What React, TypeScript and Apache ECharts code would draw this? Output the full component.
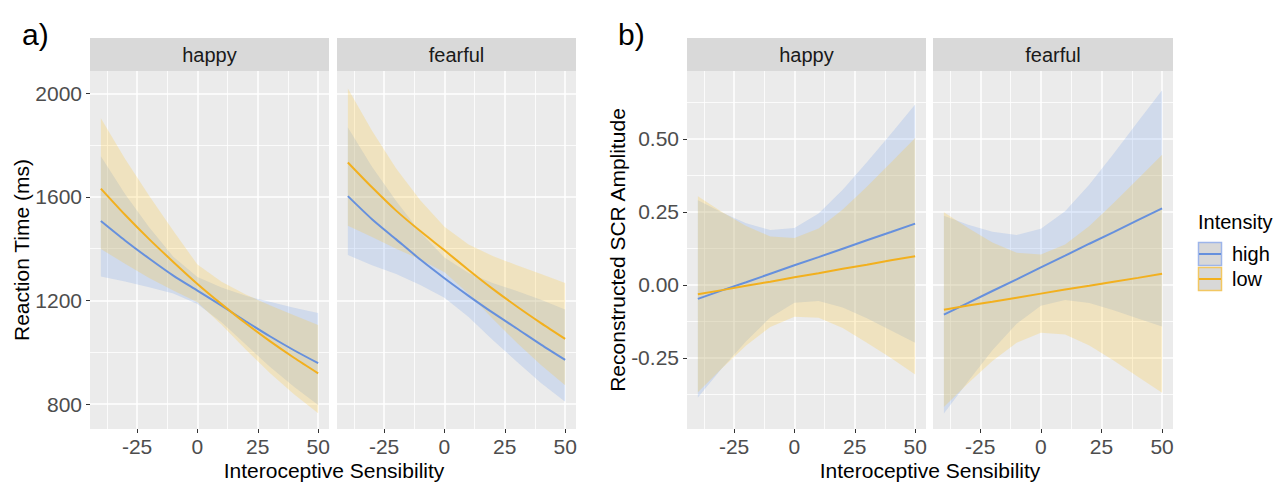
import React, { useEffect, useRef } from 'react';
import * as echarts from 'echarts';

const FONT = '"Liberation Sans", Arial, Helvetica, sans-serif';

const X = [-40, -30, -20, -10, 0, 10, 20, 30, 40, 50];
const X_TICKS = [-25, 0, 25, 50];
const X_MINOR = [-37.5, -12.5, 12.5, 37.5];
const RT_TICKS = [800, 1200, 1600, 2000];
const RT_MINOR = [1000, 1400, 1800];
const SCR_TICKS = [-0.25, 0, 0.25, 0.5];
const SCR_MINOR = [-0.375, -0.125, 0.125, 0.375, 0.625];
const FACETS = ['happy', 'fearful'];
const INTENSITY = ['high', 'low'];

// a) Reaction time – happy
const RT_HAPPY_HIGH = [1507, 1432, 1362, 1296, 1238, 1180, 1120, 1062, 1008, 958];
const RT_HAPPY_HIGH_LO = [1293, 1273, 1251, 1227, 1187, 1116, 1030, 944, 867, 797];
const RT_HAPPY_HIGH_HI = [1757, 1611, 1483, 1369, 1291, 1250, 1218, 1195, 1172, 1152];
const RT_HAPPY_LOW = [1632, 1531, 1437, 1349, 1264, 1186, 1112, 1043, 979, 919];
const RT_HAPPY_LOW_LO = [1399, 1342, 1287, 1239, 1193, 1106, 1011, 920, 838, 765];
const RT_HAPPY_LOW_HI = [1904, 1747, 1604, 1469, 1339, 1272, 1223, 1182, 1143, 1105];

// a) Reaction time – fearful
const RT_FEAR_HIGH = [1603, 1514, 1436, 1358, 1286, 1218, 1153, 1092, 1030, 971];
const RT_FEAR_HIGH_LO = [1376, 1336, 1302, 1260, 1211, 1136, 1048, 964, 882, 809];
const RT_FEAR_HIGH_HI = [1868, 1716, 1584, 1464, 1366, 1306, 1268, 1237, 1203, 1165];
const RT_FEAR_LOW = [1733, 1637, 1547, 1468, 1394, 1318, 1245, 1177, 1113, 1052];
const RT_FEAR_LOW_LO = [1489, 1445, 1400, 1358, 1309, 1226, 1130, 1037, 951, 873];
const RT_FEAR_LOW_HI = [2018, 1855, 1710, 1587, 1485, 1416, 1372, 1336, 1302, 1268];

// b) SCR amplitude – happy
const SCR_HAPPY_HIGH = [-0.048, -0.019, 0.009, 0.038, 0.067, 0.095, 0.124, 0.153, 0.181, 0.21];
const SCR_HAPPY_HIGH_LO = [-0.386, -0.286, -0.193, -0.112, -0.061, -0.055, -0.078, -0.114, -0.156, -0.198];
const SCR_HAPPY_HIGH_HI = [0.29, 0.248, 0.211, 0.188, 0.195, 0.245, 0.326, 0.42, 0.518, 0.618];
const SCR_HAPPY_LOW = [-0.032, -0.018, -0.003, 0.011, 0.026, 0.04, 0.055, 0.069, 0.084, 0.098];
const SCR_HAPPY_LOW_LO = [-0.368, -0.286, -0.208, -0.144, -0.109, -0.113, -0.148, -0.198, -0.251, -0.307];
const SCR_HAPPY_LOW_HI = [0.304, 0.25, 0.202, 0.166, 0.161, 0.193, 0.258, 0.336, 0.419, 0.503];

// b) SCR amplitude – fearful
const SCR_FEAR_HIGH = [-0.102, -0.062, -0.021, 0.019, 0.06, 0.1, 0.141, 0.181, 0.222, 0.262];
const SCR_FEAR_HIGH_LO = [-0.441, -0.33, -0.224, -0.133, -0.072, -0.052, -0.062, -0.087, -0.115, -0.143];
const SCR_FEAR_HIGH_HI = [0.237, 0.206, 0.182, 0.171, 0.192, 0.252, 0.344, 0.449, 0.559, 0.667];
const SCR_FEAR_LOW = [-0.085, -0.071, -0.058, -0.044, -0.03, -0.016, -0.003, 0.011, 0.024, 0.038];
const SCR_FEAR_LOW_LO = [-0.419, -0.337, -0.261, -0.198, -0.164, -0.17, -0.208, -0.259, -0.315, -0.37];
const SCR_FEAR_LOW_HI = [0.249, 0.195, 0.145, 0.11, 0.104, 0.138, 0.202, 0.281, 0.363, 0.446];

const BLUE = '#6690DD';
const GOLD = '#F2B01E';
const BLUE_FILL = 'rgba(100,149,237,0.2)';
const GOLD_FILL = 'rgba(255,198,35,0.22)';

const PANELS = [
  { left: 90, width: 239, ymin: 704, ymax: 2086, ticks: RT_TICKS, minor: RT_MINOR, labels: true, dec: 0, smooth: 0.25,
    high: [RT_HAPPY_HIGH, RT_HAPPY_HIGH_LO, RT_HAPPY_HIGH_HI], low: [RT_HAPPY_LOW, RT_HAPPY_LOW_LO, RT_HAPPY_LOW_HI], facet: FACETS[0] },
  { left: 337, width: 239, ymin: 704, ymax: 2086, ticks: RT_TICKS, minor: RT_MINOR, labels: false, dec: 0, smooth: 0.25,
    high: [RT_FEAR_HIGH, RT_FEAR_HIGH_LO, RT_FEAR_HIGH_HI], low: [RT_FEAR_LOW, RT_FEAR_LOW_LO, RT_FEAR_LOW_HI], facet: FACETS[1] },
  { left: 687, width: 239, ymin: -0.494, ymax: 0.733, ticks: SCR_TICKS, minor: SCR_MINOR, labels: true, dec: 2, smooth: 0,
    high: [SCR_HAPPY_HIGH, SCR_HAPPY_HIGH_LO, SCR_HAPPY_HIGH_HI], low: [SCR_HAPPY_LOW, SCR_HAPPY_LOW_LO, SCR_HAPPY_LOW_HI], facet: FACETS[0] },
  { left: 933, width: 240, ymin: -0.494, ymax: 0.733, ticks: SCR_TICKS, minor: SCR_MINOR, labels: false, dec: 2, smooth: 0,
    high: [SCR_FEAR_HIGH, SCR_FEAR_HIGH_LO, SCR_FEAR_HIGH_HI], low: [SCR_FEAR_LOW, SCR_FEAR_LOW_LO, SCR_FEAR_LOW_HI], facet: FACETS[1] },
];

const TOP = 71;
const HEIGHT = 358;
const XMIN = -44.5;
const XMAX = 54.5;

function ribbonSeries(gi: number, lo: number[], hi: number[], fill: string) {
  return {
    type: 'custom',
    xAxisIndex: gi * 2,
    yAxisIndex: gi * 2,
    clip: true,
    silent: true,
    encode: { x: 0, y: [1, 2] },
    data: X.map((x, i) => [x, lo[i], hi[i]]),
    renderItem: (params: any, api: any) => {
      if (params.dataIndexInside !== 0) return null;
      const n = params.dataInsideLength;
      const top: number[][] = [];
      const bot: number[][] = [];
      for (let i = 0; i < n; i++) {
        const xv = api.value(0, i);
        bot.push(api.coord([xv, api.value(1, i)]));
        top.push(api.coord([xv, api.value(2, i)]));
      }
      return {
        type: 'polygon',
        shape: { points: top.concat(bot.reverse()) },
        style: { fill, stroke: 'none' },
      };
    },
  };
}

function lineSeries(gi: number, mean: number[], color: string, name: string, smooth: number) {
  return {
    type: 'line',
    name,
    xAxisIndex: gi * 2,
    yAxisIndex: gi * 2,
    data: X.map((x, i) => [x, mean[i]]),
    symbol: 'none',
    smooth: smooth > 0 ? smooth : false,
    clip: true,
    lineStyle: { color, width: 2 },
  };
}

export default function App() {
  const ref = useRef<HTMLDivElement>(null);
  useEffect(() => {
    if (!ref.current) return;
    document.body.style.margin = '0';
    const chart = echarts.init(ref.current, undefined, { renderer: 'svg' });

    const grids = PANELS.map((p) => ({
      left: p.left, top: TOP, width: p.width, height: HEIGHT,
      show: true, backgroundColor: '#EBEBEB', borderWidth: 0,
      containLabel: false, outerBoundsMode: 'none',
    }));

    const xAxis: any[] = [];
    const yAxis: any[] = [];
    PANELS.forEach((p, gi) => {
      xAxis.push({
        type: 'value', gridIndex: gi, min: XMIN, max: XMAX, position: 'bottom',
        axisLine: { show: false, onZero: false },
        axisTick: { show: true, length: 4, lineStyle: { color: '#333333', width: 1 }, customValues: X_TICKS },
        axisLabel: { show: true, customValues: X_TICKS, color: '#4D4D4D', fontSize: 21, fontFamily: FONT, margin: 7,
          formatter: (v: number) => String(v) },
        splitLine: { show: true, lineStyle: { color: '#FFFFFF', width: 1.5 } },
      });
      xAxis.push({
        type: 'value', gridIndex: gi, min: XMIN, max: XMAX, position: 'bottom',
        axisLine: { show: false, onZero: false },
        axisTick: { show: false, customValues: X_MINOR },
        axisLabel: { show: false, customValues: X_MINOR },
        splitLine: { show: true, lineStyle: { color: '#FFFFFF', width: 0.8 } },
      });
      yAxis.push({
        type: 'value', gridIndex: gi, min: p.ymin, max: p.ymax, position: 'left',
        axisLine: { show: false, onZero: false },
        axisTick: { show: p.labels, length: 4, lineStyle: { color: '#333333', width: 1 }, customValues: p.ticks },
        axisLabel: { show: p.labels, customValues: p.ticks, color: '#4D4D4D', fontSize: 21, fontFamily: FONT, margin: 8,
          formatter: (v: number) => v.toFixed(p.dec) },
        splitLine: { show: true, lineStyle: { color: '#FFFFFF', width: 1.5 } },
      });
      yAxis.push({
        type: 'value', gridIndex: gi, min: p.ymin, max: p.ymax, position: 'left',
        axisLine: { show: false, onZero: false },
        axisTick: { show: false, customValues: p.minor },
        axisLabel: { show: false, customValues: p.minor },
        splitLine: { show: true, lineStyle: { color: '#FFFFFF', width: 0.8 } },
      });
    });

    const series: any[] = [];
    PANELS.forEach((p, gi) => {
      series.push(ribbonSeries(gi, p.high[1], p.high[2], BLUE_FILL));
      series.push(lineSeries(gi, p.high[0], BLUE, INTENSITY[0], p.smooth));
      series.push(ribbonSeries(gi, p.low[1], p.low[2], GOLD_FILL));
      series.push(lineSeries(gi, p.low[0], GOLD, INTENSITY[1], p.smooth));
    });

    const graphic: any[] = [];
    PANELS.forEach((p) => {
      graphic.push({ type: 'rect', shape: { x: p.left, y: 38, width: p.width, height: 33 }, style: { fill: '#D9D9D9' }, silent: true });
      graphic.push({ type: 'text', x: p.left + p.width / 2, y: 55,
        style: { text: p.facet, fill: '#1A1A1A', fontSize: 20, fontFamily: FONT, align: 'center', verticalAlign: 'middle' } });
    });
    const txt = (text: string, x: number, y: number, size: number, extra: any = {}, align = 'center') => ({
      type: 'text', x, y, ...extra,
      style: { text, fill: '#000000', fontSize: size, fontFamily: FONT, align, verticalAlign: 'middle' },
    });
    graphic.push(txt('a)', 22, 34, 30, {}, 'left'));
    graphic.push(txt('b)', 618, 34, 30, {}, 'left'));
    graphic.push(txt('Interoceptive Sensibility', 334, 470, 21));
    graphic.push(txt('Interoceptive Sensibility', 930, 470, 21));
    graphic.push(txt('Reaction Time (ms)', 21, 250, 21, { rotation: Math.PI / 2 }));
    graphic.push(txt('Reconstructed SCR Amplitude', 617, 250, 21, { rotation: Math.PI / 2 }));

    // legend
    graphic.push(txt('Intensity', 1198, 222, 20, {}, 'left'));
    const keys = [
      { label: INTENSITY[0], color: BLUE, border: '#9DB5EA', y: 242 },
      { label: INTENSITY[1], color: GOLD, border: '#F2C762', y: 267 },
    ];
    keys.forEach((k) => {
      graphic.push({ type: 'rect', shape: { x: 1198.5, y: k.y + 0.5, width: 23, height: 23 },
        style: { fill: '#D8D8D8', stroke: k.border, lineWidth: 1.5 }, silent: true });
      graphic.push({ type: 'line', shape: { x1: 1199, y1: k.y + 12, x2: 1221, y2: k.y + 12 },
        style: { stroke: k.color, lineWidth: 2 }, silent: true });
      graphic.push({ type: 'text', x: 1232, y: k.y + 12,
        style: { text: k.label, fill: '#000000', fontSize: 20, fontFamily: FONT, align: 'left', verticalAlign: 'middle' } });
    });

    chart.setOption({
      animation: false,
      backgroundColor: '#FFFFFF',
      grid: grids,
      xAxis,
      yAxis,
      series,
      graphic,
      tooltip: { show: false },
    });
    return () => chart.dispose();
  }, []);

  return <div ref={ref} style={{ width: 1288, height: 483, background: '#fff' }} />;
}
